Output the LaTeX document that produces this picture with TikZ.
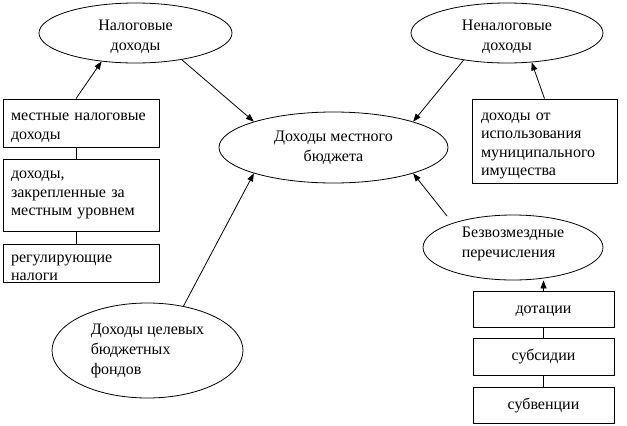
\documentclass[tikz,border=0pt]{standalone}
\usepackage{fontspec}
\setmainfont{Liberation Serif}
\usetikzlibrary{shapes.geometric,arrows.meta,calc}
\newcommand\toppad[1]{\rule{0pt}{#1}}
\newcommand\botpad[1]{\rule[-#1]{0pt}{#1}}
\begin{document}
\begin{tikzpicture}[x=1pt,y=-1pt,
  every node/.style={font=\fontsize{16}{18.5}\selectfont},
  ell/.style={draw, ellipse, inner sep=0pt, align=center, font=\fontsize{16}{20}\selectfont},
  box/.style={draw, rectangle, inner ysep=0pt, align=left},
  cbox/.style={draw, rectangle, inner sep=0pt, align=center, minimum width=141},
  arr/.style={-{Triangle[length=8pt,width=6pt]}},
  line width=0.8pt]
\useasboundingbox (0,0) rectangle (627,426);
% ellipses
\node[ell, minimum width=193, minimum height=60] (nal) at (135.5,33) {\toppad{18.5pt}Налоговые\\доходы};
\node[ell, minimum width=192, minimum height=60] (nen) at (507,33) {\toppad{18.5pt}Неналоговые\\доходы};
\node[ell, minimum width=229, minimum height=71] (main) at (333.5,147.5) {Доходы местного\\бюджета};
\node[ell, minimum width=180, minimum height=65, align=left] (bez) at (513,247.5) {Безвозмездные\\перечисления\botpad{11pt}};
\node[ell, minimum width=191, minimum height=95, align=left] (cel) at (147.5,350.5) {Доходы целевых\\бюджетных\\фондов};
% left boxes
\node[box, text width=140, inner xsep=8, minimum height=48] (lb1) at (81,123) {\toppad{17pt}местные~налоговые\\доходы};
\node[box, text width=140, inner xsep=8, minimum height=72] (lb2) at (81,195) {доходы,\\закрепленные~за\\местным~уровнем};
\node[box, text width=140, inner xsep=8, minimum height=38] (lb3) at (81,263) {\toppad{17pt}регулирующие\\налоги};
% right boxes
\node[box, text width=127, inner xsep=9, minimum height=84] (rb) at (544.5,141) {\toppad{17pt}доходы~от\\использования\\муниципального\\имущества};
\node[cbox, minimum height=36] (dot) at (543.5,309) {\toppad{12pt}дотации};
\node[cbox, minimum height=37] (sub) at (543.5,356.5) {\toppad{12pt}субсидии};
\node[cbox, minimum height=36] (sbv) at (543.5,405) {\toppad{12pt}субвенции};
% connectors
\coordinate (bezA) at ($(bez.center)+(-66,-31.5)$);
\draw[arr] ([xshift=-5pt]lb1.north) -- (nal.-140);
\draw[arr] (nal.-30) -- (main.162);
\draw[arr] (nen.-148) -- (main.18);
\draw[arr] (rb.north) -- (nen.-50);
\draw[arr] (cel.51) -- (main.-162);
\draw[arr] (bezA) -- (main.-18);
\draw[arr] (dot.north) -- (dot.north |- bez.south);
\draw ([xshift=-5pt]lb1.south) -- ([xshift=-5pt]lb2.north);
\draw ([xshift=-5pt]lb2.south) -- ([xshift=-5pt]lb3.north);
\draw (dot.south) -- (sub.north);
\draw (sub.south) -- (sbv.north);
\end{tikzpicture}
\end{document}
